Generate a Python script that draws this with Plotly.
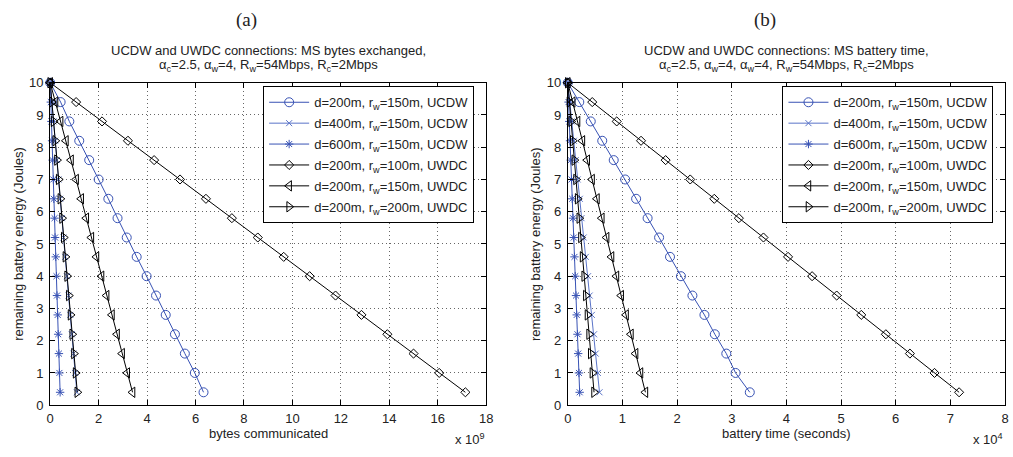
import plotly.graph_objects as go

W, H = 1013, 457

# ---------------- data ----------------
energy = [10, 9.4, 8.8, 8.2, 7.6, 7.0, 6.4, 5.8, 5.2, 4.6, 4.0, 3.4, 2.8, 2.2, 1.6, 1.0, 0.4]

series_names = [
    "d=200m, r<sub>w</sub>=150m, UCDW",
    "d=400m, r<sub>w</sub>=150m, UCDW",
    "d=600m, r<sub>w</sub>=150m, UCDW",
    "d=200m, r<sub>w</sub>=100m, UWDC",
    "d=200m, r<sub>w</sub>=150m, UWDC",
    "d=200m, r<sub>w</sub>=200m, UWDC",
]

# (a) bytes communicated, x 10^9
bytes_d200_uc = [0, 0.43, 0.79, 1.2, 1.61, 2.0, 2.4, 2.78, 3.16, 3.57, 3.98, 4.37, 4.77, 5.15, 5.56, 5.97, 6.33]
bytes_d400_uc = [0, 0.069, 0.138, 0.206, 0.275, 0.344, 0.413, 0.481, 0.55, 0.62, 0.69, 0.76, 0.83, 0.89, 0.96, 1.03, 1.1]
bytes_d600_uc = [0, 0.026, 0.051, 0.077, 0.10, 0.13, 0.15, 0.18, 0.20, 0.23, 0.26, 0.28, 0.31, 0.33, 0.36, 0.38, 0.41]
bytes_rw100_uw = [0, 1.07, 2.14, 3.21, 4.29, 5.36, 6.43, 7.5, 8.57, 9.64, 10.71, 11.78, 12.85, 13.92, 15.0, 16.06, 17.14]
bytes_rw150_uw = [0, 0.22, 0.43, 0.65, 0.86, 1.07, 1.28, 1.49, 1.7, 1.91, 2.12, 2.33, 2.55, 2.76, 2.97, 3.18, 3.4]
bytes_rw200_uw = [0, 0.07, 0.14, 0.21, 0.28, 0.35, 0.42, 0.49, 0.56, 0.63, 0.70, 0.77, 0.84, 0.91, 0.98, 1.05, 1.12]

# (b) battery time (seconds), x 10^4
time_d200_uc = [0, 0.21, 0.42, 0.63, 0.84, 1.05, 1.25, 1.46, 1.67, 1.87, 2.07, 2.28, 2.5, 2.69, 2.9, 3.07, 3.33]
time_d400_uc = [0, 0.036, 0.072, 0.11, 0.145, 0.18, 0.22, 0.25, 0.29, 0.33, 0.37, 0.40, 0.44, 0.48, 0.51, 0.55, 0.58]
time_d600_uc = [0, 0.014, 0.027, 0.041, 0.054, 0.068, 0.081, 0.095, 0.109, 0.122, 0.136, 0.15, 0.163, 0.177, 0.19, 0.204, 0.217]
time_rw100_uw = [0, 0.447, 0.895, 1.34, 1.79, 2.24, 2.68, 3.13, 3.58, 4.03, 4.47, 4.92, 5.37, 5.82, 6.26, 6.71, 7.16]
time_rw150_uw = [0, 0.089, 0.178, 0.267, 0.355, 0.444, 0.533, 0.622, 0.71, 0.80, 0.89, 0.977, 1.066, 1.155, 1.24, 1.33, 1.42]
time_rw200_uw = [0, 0.03, 0.06, 0.09, 0.12, 0.15, 0.18, 0.21, 0.24, 0.27, 0.30, 0.33, 0.36, 0.39, 0.42, 0.45, 0.48]

x_ticks_a = [0, 2, 4, 6, 8, 10, 12, 14, 16, 18]
x_ticks_b = [0, 1, 2, 3, 4, 5, 6, 7, 8]
y_ticks = [0, 1, 2, 3, 4, 5, 6, 7, 8, 9, 10]

# ---------------- styles ----------------
BLUE = "#3852b4"
BLUE2 = "#5a74c8"
styles = [
    dict(color=BLUE, symbol="circle-open", size=9),
    dict(color=BLUE2, symbol="x-thin-open", size=6),
    dict(color=BLUE, symbol="asterisk-open", size=7),
    dict(color="black", symbol="diamond-open", size=7),
    dict(color="black", symbol="triangle-left-open", size=9),
    dict(color="black", symbol="triangle-right-open", size=9),
]

FONT = "Liberation Sans, Arial, sans-serif"
TXT = "#222222"
fig = go.Figure()

def add_panel(xs_list, xaxis, yaxis, legend):
    for i, (xs, st) in enumerate(zip(xs_list, styles)):
        fig.add_trace(go.Scatter(
            x=xs, y=energy, mode="lines+markers", name=series_names[i],
            xaxis=xaxis, yaxis=yaxis, legend=legend, legendgroup=f"{legend}{i}",
            line=dict(color=st["color"], width=1),
            marker=dict(symbol=st["symbol"], size=st["size"], color=st["color"],
                        line=dict(color=st["color"], width=1)),
            cliponaxis=False,
        ))

add_panel([bytes_d200_uc, bytes_d400_uc, bytes_d600_uc, bytes_rw100_uw, bytes_rw150_uw, bytes_rw200_uw],
          "x", "y", "legend")
add_panel([time_d200_uc, time_d400_uc, time_d600_uc, time_rw100_uw, time_rw150_uw, time_rw200_uw],
          "x2", "y2", "legend2")

def px(x):
    return x / W

def py(y):
    return 1 - y / H

ax_common = dict(showline=True, linecolor="black", linewidth=1, mirror="allticks",
                 ticks="inside", ticklen=5, tickcolor="black", tickwidth=1,
                 showgrid=True, gridcolor="#666666", griddash="1px,3px", gridwidth=1,
                 zeroline=False, tickfont=dict(family=FONT, size=13, color=TXT))

ydom = [py(411.7), py(78.3)]
leg_common = dict(xanchor="left", yanchor="top", bgcolor="white",
                  bordercolor="black", borderwidth=1, tracegroupgap=1, itemwidth=40,
                  font=dict(family=FONT, size=13, color=TXT))
fig.update_layout(
    width=W, height=H, margin=dict(l=0, r=0, t=0, b=0),
    paper_bgcolor="white", plot_bgcolor="white",
    font=dict(family=FONT, size=13, color=TXT),
    xaxis=dict(domain=[px(46.7), px(487.5)], range=[0, 18], tickvals=x_ticks_a, anchor="y",
               ticklabelstandoff=1, **ax_common),
    yaxis=dict(domain=ydom, range=[0, 10], tickvals=y_ticks, anchor="x",
               ticklabelstandoff=3, **ax_common),
    xaxis2=dict(domain=[px(570), px(1012)], range=[0, 8], tickvals=x_ticks_b, anchor="y2",
                ticklabelstandoff=1, **ax_common),
    yaxis2=dict(domain=ydom, range=[0, 10], tickvals=y_ticks, anchor="x2",
                ticklabelstandoff=3, **ax_common),
    legend=dict(x=px(262), y=py(82), **leg_common),
    legend2=dict(x=px(787), y=py(82), **leg_common),
    showlegend=True,
)

def ann(text, x, y, size=13, family=FONT, xanchor="center", yanchor="middle", angle=0):
    fig.add_annotation(text=text, x=px(x), y=py(y), xref="paper", yref="paper",
                       showarrow=False, xanchor=xanchor, yanchor=yanchor, textangle=angle,
                       font=dict(family=family, size=size, color=TXT))

SERIF = "Liberation Serif, Times New Roman, serif"
ann("(a)", 245, 13, size=19, family=SERIF)
ann("(b)", 769, 13, size=19, family=SERIF)
ann("UCDW and UWDC connections: MS bytes exchanged,", 267, 45)
ann("α<sub>c</sub>=2.5, α<sub>w</sub>=4, R<sub>w</sub>=54Mbps, R<sub>c</sub>=2Mbps", 267, 60)
ann("UCDW and UWDC connections: MS battery time,", 791, 45)
ann("α<sub>c</sub>=2.5, α<sub>w</sub>=4, α<sub>w</sub>=4, R<sub>w</sub>=54Mbps, R<sub>c</sub>=2Mbps", 791, 60)
ann("bytes communicated", 267, 441)
ann("battery time (seconds)", 791, 441)
ann("x 10<sup>9</sup>", 488, 447, xanchor="right")
ann("x 10<sup>4</sup>", 1012, 447, xanchor="right")
ann("remaining battery energy (Joules)", 15, 245, angle=-90)
ann("remaining battery energy (Joules)", 538, 245, angle=-90)

fig.write_html("out.html")
